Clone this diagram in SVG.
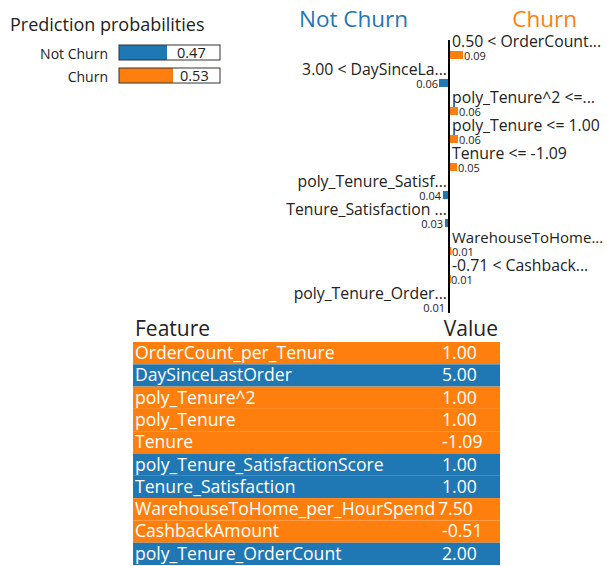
<svg xmlns="http://www.w3.org/2000/svg" width="607" height="566" viewBox="0 0 607 566">
<style>
text{font-family:"Open Sans","Noto Sans","DejaVu Sans",sans-serif;fill:#222}
.lbl{font-size:15.8px}
.val{font-size:11px}
.rt{text-anchor:end}
.neg{fill:#1f77b4}
.pos{fill:#ff7f0e}
.trow{font-size:17.6px;fill:#fff}
</style>
<rect width="607" height="566" fill="#fff"/>
<g id="pred-probs">
<text x="10" y="31" font-size="18">Prediction probabilities</text>
<text x="108" y="59" font-size="14" class="rt">Not Churn</text>
<rect x="119" y="45" width="48" height="15" class="neg"/>
<rect x="119" y="45" width="101" height="15" fill="none" stroke="#333" stroke-width="1"/>
<text x="177" y="58" font-size="14.5">0.47</text>
<text x="108" y="82" font-size="14" class="rt">Churn</text>
<rect x="119" y="68" width="54" height="15" class="pos"/>
<rect x="119" y="68" width="101" height="15" fill="none" stroke="#333" stroke-width="1"/>
<text x="180" y="81" font-size="14.5">0.53</text>
</g>
<g id="explanation">
<text x="299" y="27" font-size="22.5" style="fill:#1f77b4">Not Churn</text>
<text x="577" y="27" font-size="22.5" class="rt" style="fill:#ff7f0e">Churn</text>
<g id="row1"><text x="452" y="47" class="lbl">0.50 &lt; OrderCount...</text><rect x="450" y="51" width="13" height="8" class="pos"/><text x="464" y="60" class="val">0.09</text></g>
<g id="row2"><text x="447" y="75" class="lbl rt">3.00 &lt; DaySinceLa...</text><rect x="439" y="79" width="10" height="8" class="neg"/><text x="438" y="88" class="val rt">0.06</text></g>
<g id="row3"><text x="452" y="103" class="lbl">poly_Tenure^2 &lt;=...</text><rect x="450" y="107" width="8" height="8" class="pos"/><text x="459" y="116" class="val">0.06</text></g>
<g id="row4"><text x="452" y="131" class="lbl">poly_Tenure &lt;= 1.00</text><rect x="450" y="135" width="8" height="8" class="pos"/><text x="459" y="144" class="val">0.06</text></g>
<g id="row5"><text x="452" y="159" class="lbl">Tenure &lt;= -1.09</text><rect x="450" y="163" width="7" height="8" class="pos"/><text x="458" y="172" class="val">0.05</text></g>
<g id="row6"><text x="447" y="187" class="lbl rt">poly_Tenure_Satisf...</text><rect x="443" y="191" width="6" height="8" class="neg"/><text x="441" y="200" class="val rt">0.04</text></g>
<g id="row7"><text x="447" y="215" class="lbl rt">Tenure_Satisfaction ...</text><rect x="445" y="219" width="4" height="8" class="neg"/><text x="443" y="228" class="val rt">0.03</text></g>
<g id="row8"><text x="452" y="243" class="lbl" style="font-size:15px">WarehouseToHome...</text><rect x="450" y="247" width="1.5" height="8" class="pos"/><text x="452" y="256" class="val">0.01</text></g>
<g id="row9"><text x="452" y="271" class="lbl">-0.71 &lt; Cashback...</text><rect x="450" y="275" width="1" height="8" class="pos"/><text x="451" y="284" class="val">0.01</text></g>
<g id="row10"><text x="447" y="299" class="lbl rt">poly_Tenure_Order...</text><rect x="448" y="303" width="1" height="8" class="neg"/><text x="445" y="312" class="val rt">0.01</text></g>
<line x1="449" y1="40" x2="449" y2="313" stroke="#000" stroke-width="2"/>
</g>
<g id="feature-table">
<text x="135" y="336" font-size="21">Feature</text>
<text x="498" y="336" font-size="21" class="rt">Value</text>
<rect x="133" y="342" width="367" height="22.3" class="pos"/>
<rect x="133" y="364.3" width="367" height="22.3" class="neg"/>
<rect x="133" y="386.6" width="367" height="22.3" class="pos"/>
<rect x="133" y="408.9" width="367" height="22.3" class="pos"/>
<rect x="133" y="431.2" width="367" height="22.3" class="pos"/>
<rect x="133" y="453.5" width="367" height="22.3" class="neg"/>
<rect x="133" y="475.8" width="367" height="22.3" class="neg"/>
<rect x="133" y="498.1" width="367" height="22.3" class="pos"/>
<rect x="133" y="520.4" width="367" height="22.3" class="pos"/>
<rect x="133" y="542.7" width="367" height="22.3" class="neg"/>
<g class="trow">
<text x="135" y="359" class="trow">OrderCount_per_Tenure</text><text x="442" y="359" class="trow">1.00</text>
<text x="135" y="381.3" class="trow">DaySinceLastOrder</text><text x="442" y="381.3" class="trow">5.00</text>
<text x="135" y="403.6" class="trow">poly_Tenure^2</text><text x="442" y="403.6" class="trow">1.00</text>
<text x="135" y="425.9" class="trow">poly_Tenure</text><text x="442" y="425.9" class="trow">1.00</text>
<text x="135" y="448.2" class="trow">Tenure</text><text x="442" y="448.2" class="trow">-1.09</text>
<text x="135" y="470.5" class="trow">poly_Tenure_SatisfactionScore</text><text x="442" y="470.5" class="trow">1.00</text>
<text x="135" y="492.8" class="trow">Tenure_Satisfaction</text><text x="442" y="492.8" class="trow">1.00</text>
<text x="135" y="515.1" class="trow">WarehouseToHome_per_HourSpend</text><text x="438" y="515.1" class="trow">7.50</text>
<text x="135" y="537.4" class="trow">CashbackAmount</text><text x="442" y="537.4" class="trow">-0.51</text>
<text x="135" y="559.7" class="trow">poly_Tenure_OrderCount</text><text x="442" y="559.7" class="trow">2.00</text>
</g>
</g>
</svg>
